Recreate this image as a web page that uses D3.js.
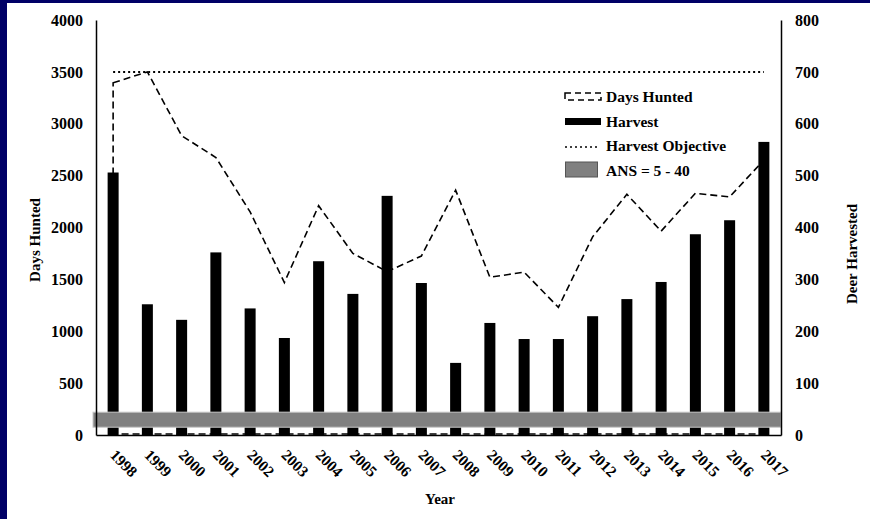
<!DOCTYPE html>
<html>
<head>
<meta charset="utf-8">
<script src="https://cdn.jsdelivr.net/npm/d3@7"></script>
<style>
  body { margin: 0; background: #fff; }
  svg { display: block; font-family: "Liberation Serif", "Times New Roman", serif; font-weight: bold; }
</style>
</head>
<body>
<svg width="870" height="519"></svg>
<script>
// chart data
const years = ["1998", "1999", "2000", "2001", "2002", "2003", "2004", "2005", "2006", "2007",
  "2008", "2009", "2010", "2011", "2012", "2013", "2014", "2015", "2016", "2017"];
const daysHunted = [3395, 3500, 2885, 2675, 2150, 1470, 2210, 1750, 1575, 1725,
  2360, 1520, 1570, 1230, 1910, 2320, 1965, 2330, 2295, 2650];
const harvest = [506, 252, 222, 352, 244, 187, 335, 272, 461, 293,
  139, 216, 185, 185, 229, 262, 295, 387, 414, 565];
const harvestObjective = 700;
const ansBand = [15, 44];
const leftTicks = [0, 500, 1000, 1500, 2000, 2500, 3000, 3500, 4000];
const rightTicks = [0, 100, 200, 300, 400, 500, 600, 700, 800];
const legendLabels = ["Days Hunted", "Harvest", "Harvest Objective", "ANS = 5 - 40"];

const svg = d3.select("svg");
const plotL = 96, plotR = 781, plotT = 20, plotB = 435;

// navy frame on top and left
svg.append("rect").attr("x", 0).attr("y", 0).attr("width", 870).attr("height", 3).attr("fill", "#000066");
svg.append("rect").attr("x", 0).attr("y", 0).attr("width", 7).attr("height", 519).attr("fill", "#000066");

const x = d3.scaleBand().domain(years).range([plotL, plotR]).padding(0);
const yDays = d3.scaleLinear().domain([0, 4000]).range([plotB, plotT]);
const yDeer = d3.scaleLinear().domain([0, 800]).range([plotB, plotT]);
const cx = (d) => x(d) + x.bandwidth() / 2;

// days hunted as an outlined area (dashed)
const area = d3.area()
  .x((d, i) => cx(years[i]))
  .y0(yDays(0) - 1)
  .y1((d) => yDays(d));
svg.append("path")
  .datum(daysHunted)
  .attr("d", area)
  .attr("fill", "none")
  .attr("stroke", "black")
  .attr("stroke-width", 1.6)
  .attr("stroke-dasharray", "7,4");

// harvest objective
svg.append("line")
  .attr("x1", cx(years[0]))
  .attr("x2", cx(years[years.length - 1]))
  .attr("y1", yDeer(harvestObjective))
  .attr("y2", yDeer(harvestObjective))
  .attr("stroke", "black")
  .attr("stroke-width", 2)
  .attr("stroke-dasharray", "2,3");

// harvest bars
const barW = 11;
svg.selectAll(".bar")
  .data(harvest)
  .enter()
  .append("rect")
  .attr("class", "bar")
  .attr("x", (d, i) => cx(years[i]) - barW / 2)
  .attr("width", barW)
  .attr("y", (d) => yDeer(d))
  .attr("height", (d) => yDeer(0) - yDeer(d))
  .attr("fill", "black");

// ANS band
svg.append("rect")
  .attr("x", plotL - 3)
  .attr("width", plotR - plotL + 3)
  .attr("y", yDeer(ansBand[1]))
  .attr("height", yDeer(ansBand[0]) - yDeer(ansBand[1]))
  .attr("fill", "#808080")
  .attr("stroke", "#c8c8c8")
  .attr("stroke-width", 1);

// axes
const axisLeft = svg.append("g")
  .attr("transform", `translate(${plotL},0)`)
  .call(d3.axisLeft(yDays).tickValues(leftTicks).tickFormat(d3.format("d")).tickSize(0).tickPadding(13));
const axisRight = svg.append("g")
  .attr("transform", `translate(${plotR},0)`)
  .call(d3.axisRight(yDeer).tickValues(rightTicks).tickFormat(d3.format("d")).tickSize(0).tickPadding(14));
const axisBottom = svg.append("g")
  .attr("transform", `translate(0,${plotB})`)
  .call(d3.axisBottom(x).tickSize(0).tickFormat(() => ""));
[axisLeft, axisRight, axisBottom].forEach((g) => {
  g.select(".domain").attr("stroke", "black").attr("stroke-width", 1.5);
  g.selectAll("text")
    .attr("font-family", "Liberation Serif, serif")
    .attr("font-weight", "bold")
    .attr("font-size", 16)
    .attr("fill", "black");
});

// rotated year labels
svg.selectAll(".year")
  .data(years)
  .enter()
  .append("text")
  .attr("class", "year")
  .attr("transform", (d) => `translate(${cx(d) - 4},${plotB + 21}) rotate(45)`)
  .attr("font-size", 15.5)
  .text((d) => d);

// axis titles
svg.append("text")
  .attr("transform", "translate(40,240) rotate(-90)")
  .attr("text-anchor", "middle")
  .attr("font-size", 15)
  .text("Days Hunted");
svg.append("text")
  .attr("transform", "translate(857,254) rotate(-90)")
  .attr("text-anchor", "middle")
  .attr("font-size", 15)
  .text("Deer Harvested");
svg.append("text")
  .attr("x", 440)
  .attr("y", 504)
  .attr("text-anchor", "middle")
  .attr("font-size", 15)
  .text("Year");

// legend
const lg = svg.append("g").attr("transform", "translate(565,0)");
lg.append("rect")
  .attr("x", 0).attr("y", 93).attr("width", 36).attr("height", 7)
  .attr("fill", "none").attr("stroke", "black").attr("stroke-width", 1.5)
  .attr("stroke-dasharray", "6,4");
lg.append("rect")
  .attr("x", 0).attr("y", 118).attr("width", 36).attr("height", 7)
  .attr("fill", "black");
lg.append("line")
  .attr("x1", 0).attr("x2", 32).attr("y1", 147).attr("y2", 147)
  .attr("stroke", "black").attr("stroke-width", 1.5).attr("stroke-dasharray", "2,3");
lg.append("rect")
  .attr("x", 0.5).attr("y", 162).attr("width", 32).attr("height", 15)
  .attr("fill", "#808080").attr("stroke", "#555").attr("stroke-width", 1);
lg.selectAll(".lbl")
  .data(legendLabels)
  .enter()
  .append("text")
  .attr("class", "lbl")
  .attr("x", (d, i) => (i === 3 ? 41 : 41))
  .attr("y", (d, i) => 102 + i * 24.5)
  .attr("font-size", 15.5)
  .text((d) => d);
</script>
</body>
</html>
